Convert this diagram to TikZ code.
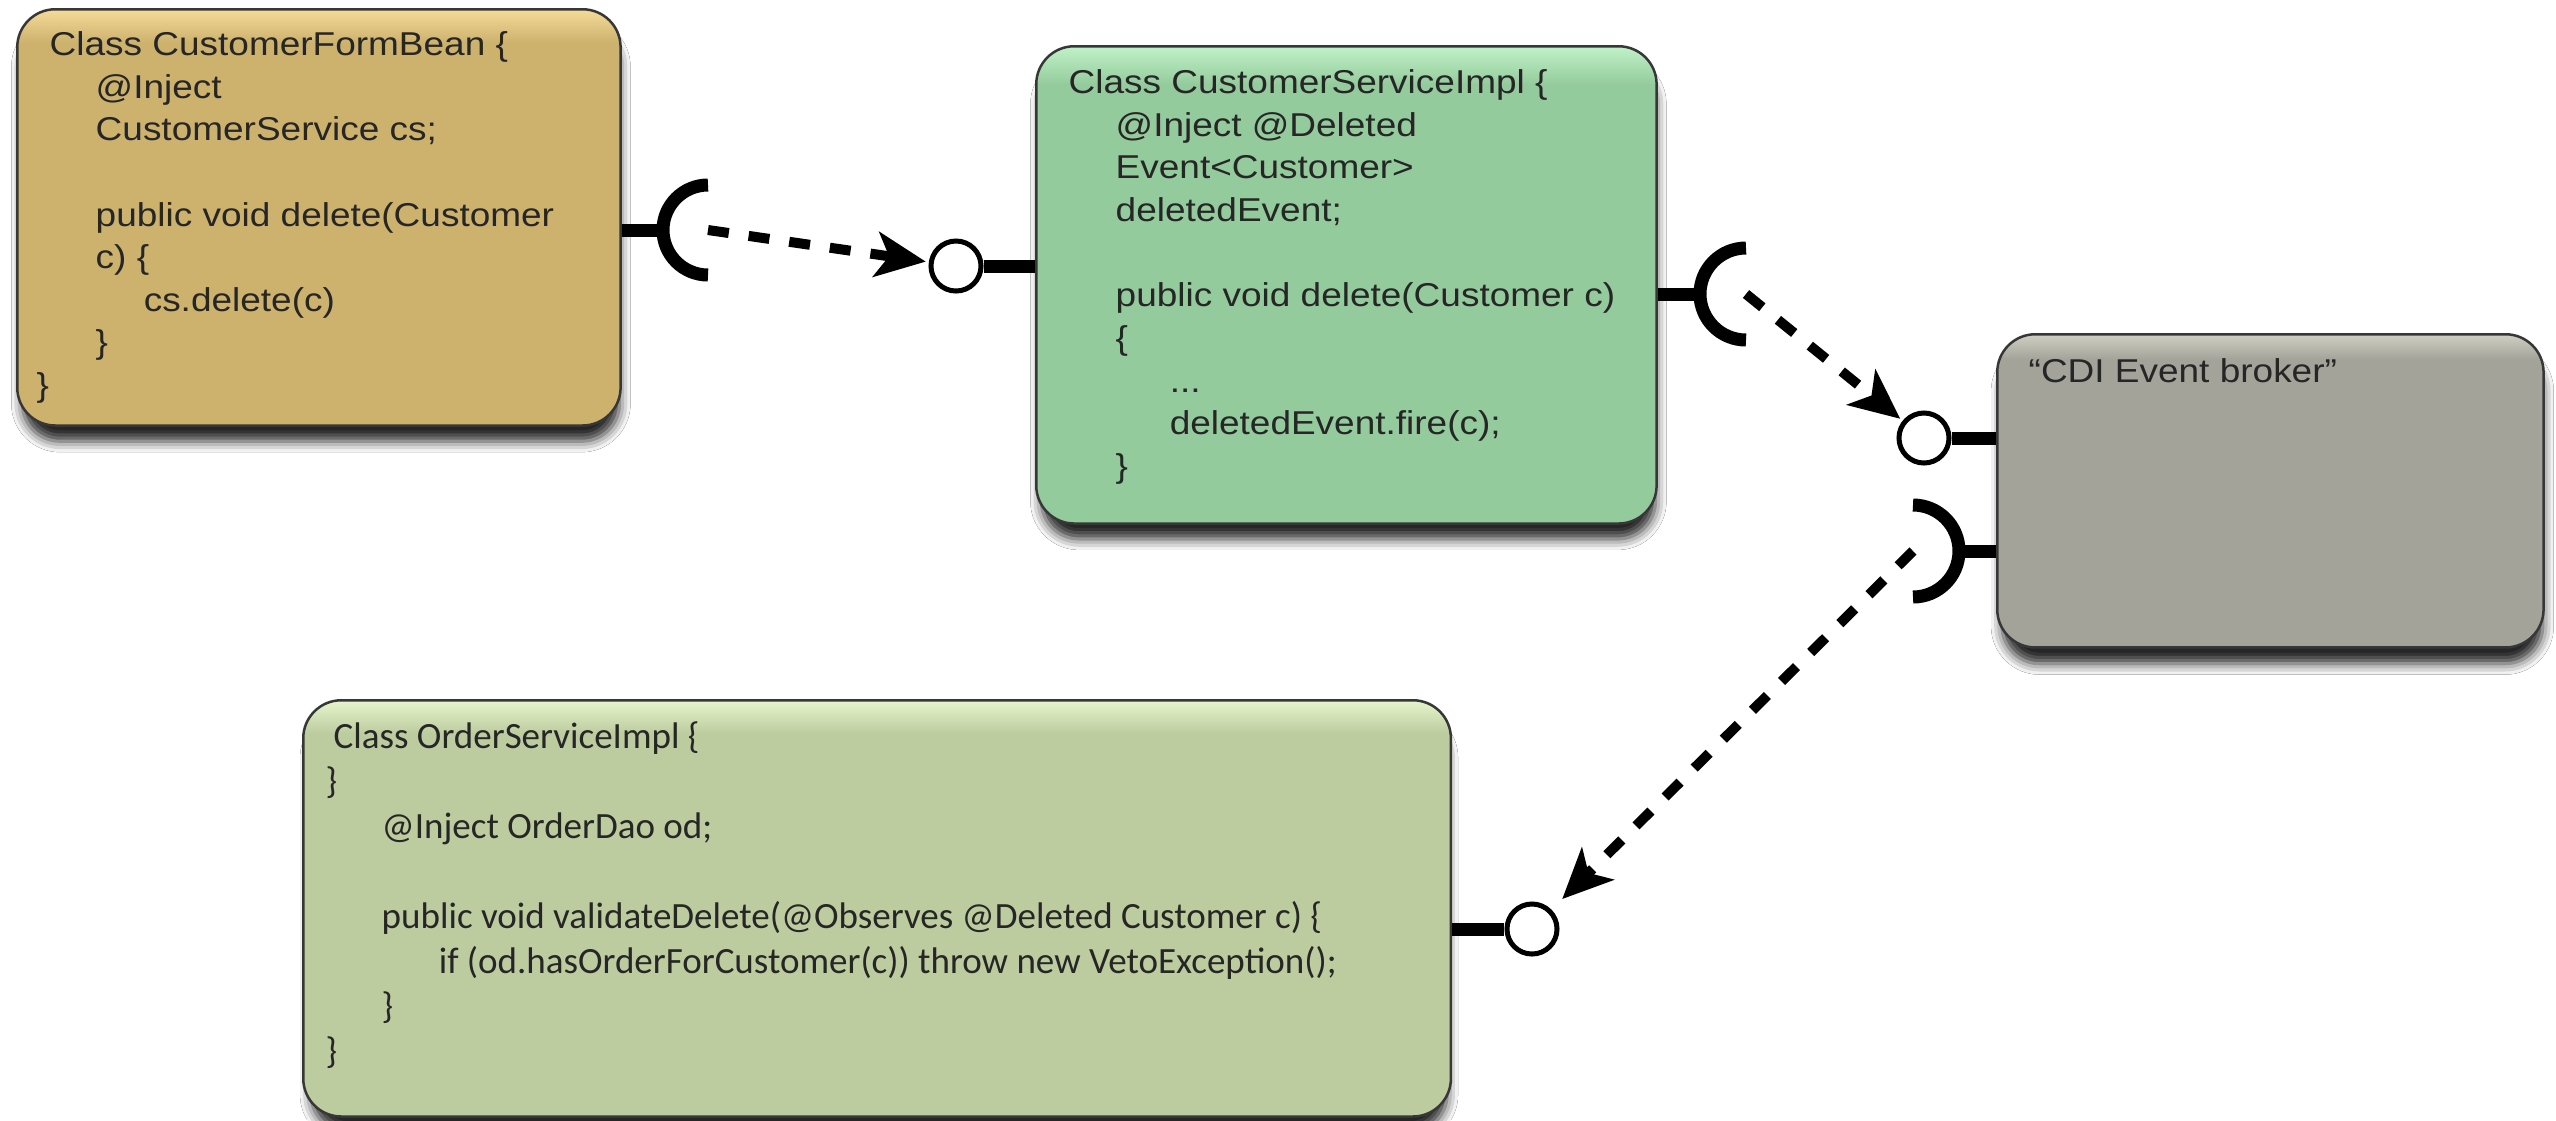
\documentclass[tikz,border=0pt]{standalone}
\usepackage{fontspec}
\usepackage{tikz}
\usetikzlibrary{arrows.meta,positioning,calc,shadows.blur}

\newfontfamily\codefont[FakeStretch=1.12]{Liberation Sans}
\newfontfamily\calfont{Carlito}

\definecolor{tanbase}{RGB}{205,178,110}
\definecolor{tantop}{RGB}{245,219,152}
\definecolor{greenbase}{RGB}{148,203,156}
\definecolor{greentop}{RGB}{192,242,200}
\definecolor{greybase}{RGB}{163,163,153}
\definecolor{greytop}{RGB}{208,207,196}
\definecolor{olivebase}{RGB}{189,204,159}
\definecolor{olivetop}{RGB}{230,245,203}
\definecolor{boxline}{RGB}{55,55,55}

% light band at the top of each class box
\pgfdeclareverticalshading{tanface}{100bp}{color(0bp)=(tanbase); color(71bp)=(tanbase); color(75bp)=(tantop); color(100bp)=(tantop)}
\pgfdeclareverticalshading{greenface}{100bp}{color(0bp)=(greenbase); color(71bp)=(greenbase); color(75bp)=(greentop); color(100bp)=(greentop)}
\pgfdeclareverticalshading{greyface}{100bp}{color(0bp)=(greybase); color(71bp)=(greybase); color(75bp)=(greytop); color(100bp)=(greytop)}
\pgfdeclareverticalshading{oliveface}{100bp}{color(0bp)=(olivebase); color(71bp)=(olivebase); color(75bp)=(olivetop); color(100bp)=(olivetop)}

\begin{document}
\begin{tikzpicture}[x=0.01cm,y=-0.01cm,
  classbox/.style={shade,draw=boxline,line width=0.025cm,rounded corners=0.38cm,
    inner sep=0,anchor=north west,
    blur shadow={shadow xshift=0.02cm,shadow yshift=-0.18cm,shadow blur radius=0.11cm,
      shadow scale=0.99,shadow opacity=85}},
  code/.style={anchor=north west,inner sep=0,align=left,text=black!85,
    font=\codefont\fontsize{9.39}{12.12}\selectfont},
  stub/.style={line width=0.13cm},
  socket/.style={line width=0.13cm},
  ball/.style={circle,draw,fill=white,line width=0.05cm,minimum size=0.5cm,inner sep=0},
  flow/.style={-{Stealth[length=0.5cm,width=0.45cm,inset=0.13cm]},line width=0.1cm,
    dash pattern=on 0.21cm off 0.2cm,shorten >=0.03cm}]

  \fill[white] (0,0) rectangle (2556,1120);
  \useasboundingbox (0,0) rectangle (2556,1120);

  % the four classes
  \node[classbox,shading=tanface,minimum width=6.03cm,minimum height=4.16cm] (form) at (16,8) {};
  \node[classbox,shading=greenface,minimum width=6.2cm,minimum height=4.77cm] (service) at (1035,45) {};
  \node[classbox,shading=greyface,minimum width=5.46cm,minimum height=3.13cm] (broker) at (1996,333) {};
  \node[classbox,shading=oliveface,minimum width=11.47cm,minimum height=4.16cm] (order) at (302,699) {};

  \node[code] (formcode) at (36,31) {%
    \hspace*{0.13cm}Class CustomerFormBean \{\\
    \hspace*{0.59cm}@Inject\\
    \hspace*{0.59cm}CustomerService cs;\\
    \\
    \hspace*{0.59cm}public void delete(Customer\\
    \hspace*{0.59cm}c) \{\\
    \hspace*{1.07cm}cs.delete(c)\\
    \hspace*{0.59cm}\}\\
    \}};

  \node[code] (servicecode) at (1068,69) {%
    Class CustomerServiceImpl \{\\
    \hspace*{0.47cm}@Inject @Deleted\\
    \hspace*{0.47cm}Event<Customer>\\
    \hspace*{0.47cm}deletedEvent;\\
    \\
    \hspace*{0.47cm}public void delete(Customer c)\\
    \hspace*{0.47cm}\{\\
    \hspace*{1.01cm}...\\
    \hspace*{1.01cm}deletedEvent.fire(c);\\
    \hspace*{0.47cm}\}};

  \node[code,anchor=base west] (brokertitle) at (2028,382) {“CDI Event broker”};

  \node[code,font=\calfont\fontsize{10.53}{12.8}\selectfont] (ordercode) at (325,721) {%
    \hspace*{0.08cm}Class OrderServiceImpl \{\\
    \}\\
    \hspace*{0.56cm}@Inject OrderDao od;\\
    \\
    \hspace*{0.56cm}public void validateDelete(@Observes @Deleted Customer c) \{\\
    \hspace*{1.13cm}if (od.hasOrderForCustomer(c)) throw new VetoException();\\
    \hspace*{0.56cm}\}\\
    \}};

  % sockets and balls
  \coordinate (sa) at (708,230);
  \coordinate (sb) at (1746,294);
  \coordinate (sc) at (1913,551);
  \node[ball] (ba) at (956,266) {};
  \node[ball] (bb) at (1924,438) {};
  \node[ball] (bc) at (1532,929) {};

  % form bean -> service
  \draw[stub] (form.east |- sa) -- ([xshift=-0.45cm]sa);
  \draw[socket] (sa) ++(0,-45) arc[start angle=-90,end angle=-270,radius=45];
  \draw[stub] (ba.east) -- (service.west |- ba);
  \draw[flow] (sa) -- (ba);

  % service -> broker
  \draw[stub] (service.east |- sb) -- ([xshift=-0.46cm]sb);
  \draw[socket] (sb) ++(0,-46) arc[start angle=-90,end angle=-270,radius=46];
  \draw[stub] (bb.east) -- (broker.west |- bb);
  \draw[flow] (sb) -- (bb);

  % broker -> observer
  \draw[stub] (broker.west |- sc) -- ([xshift=0.46cm]sc);
  \draw[socket] (sc) ++(0,-46) arc[start angle=-90,end angle=90,radius=46];
  \draw[stub] (order.east |- bc) -- (bc.west);
  \draw[flow,shorten >=0.15cm] (sc) -- (bc);
\end{tikzpicture}
\end{document}
